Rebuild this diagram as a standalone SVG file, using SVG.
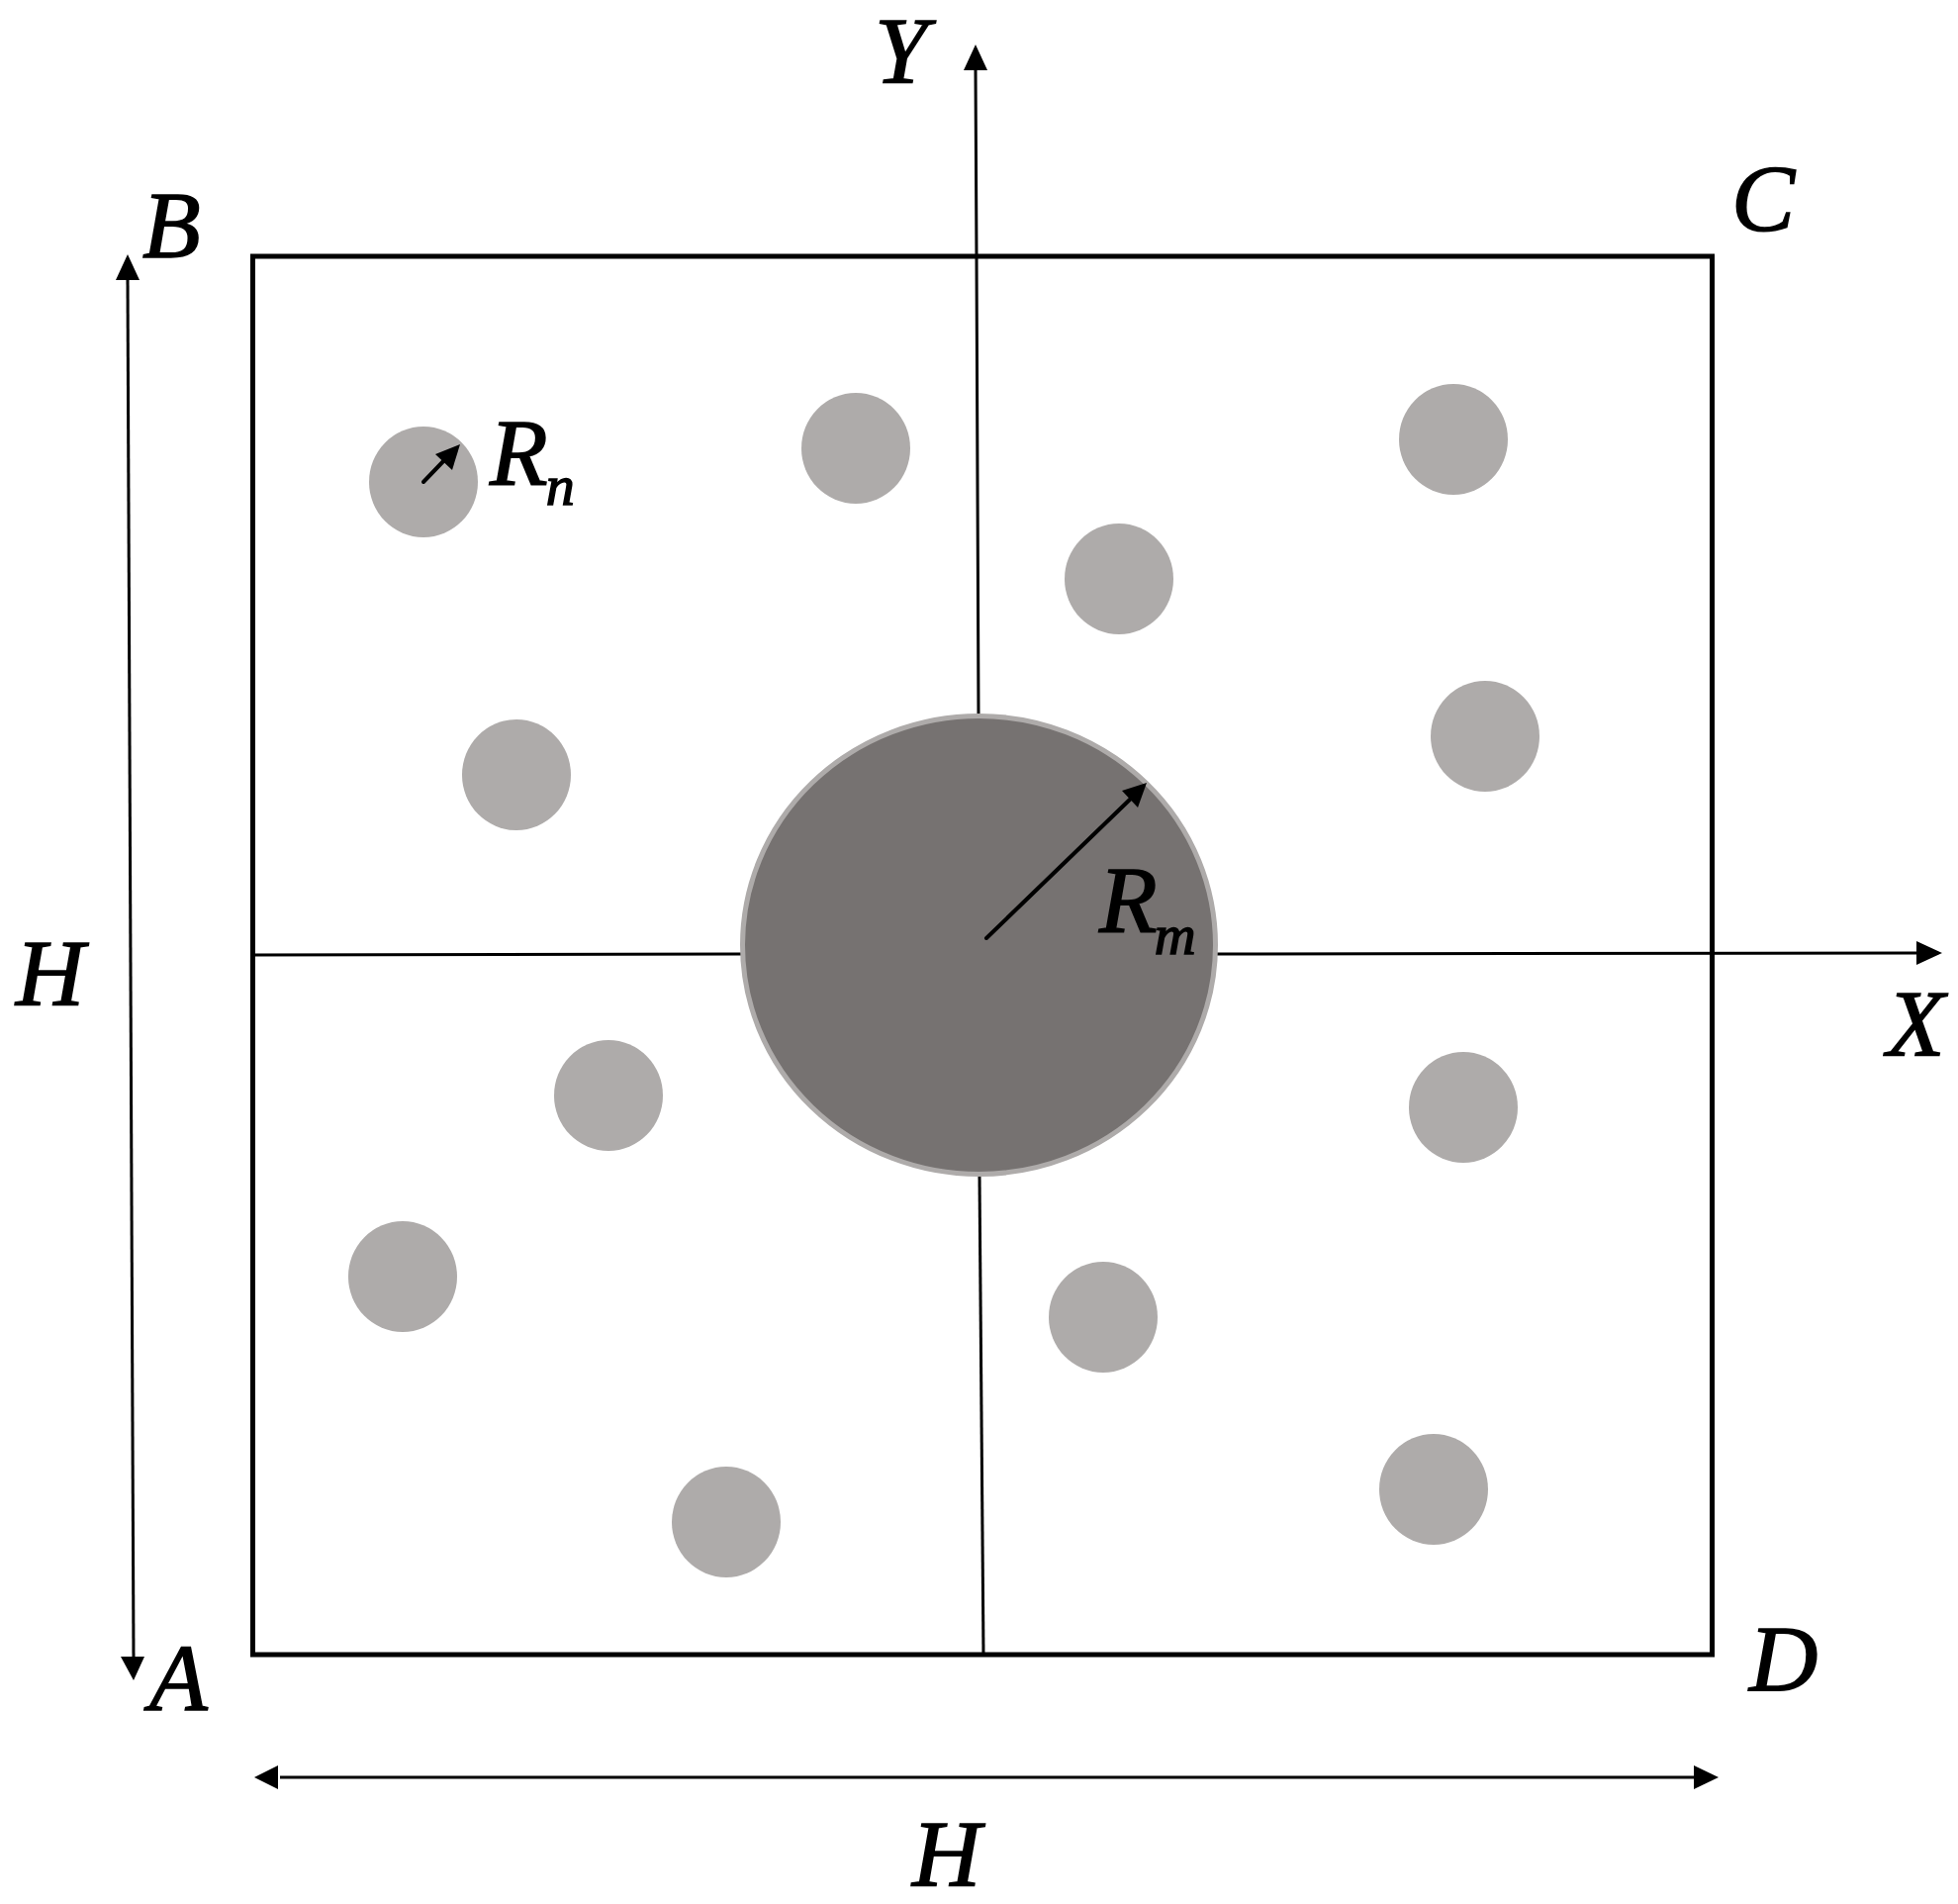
<svg xmlns="http://www.w3.org/2000/svg" width="1979" height="1924" viewBox="0 0 1979 1924">
<style>
.s{fill:#aeabaa}
.l{fill:none;stroke:#000;stroke-width:3}
.a{fill:none;stroke:#000;stroke-width:4;stroke-linecap:round}
.t{font-family:"Liberation Serif",serif;font-style:italic;font-size:96px;fill:#000;stroke:#000;stroke-width:1.5}
.u{font-size:58px}
</style>
<rect width="1979" height="1924" fill="#fff"/>
<g id="connectors">
<path class="l" d="M989 722L987 259L986 70"/>
<path d="M986 45L974 71H998Z" fill="#000"/>
<path class="l" d="M990 1188L994 1672"/>
<path class="l" d="M255 965L750 964"/>
<path class="l" d="M1230 964L1940 963"/>
<path d="M1963 963L1937 951V975Z" fill="#000"/>
</g>
<rect id="frame" x="255.500" y="259" width="1475" height="1413" fill="none" stroke="#000" stroke-width="5"/>
<g id="circles">
<ellipse class="s" cx="428" cy="487" rx="55" ry="56"/>
<ellipse class="s" cx="865" cy="453" rx="55" ry="56"/>
<ellipse class="s" cx="1469" cy="444" rx="55" ry="56"/>
<ellipse class="s" cx="1131" cy="585" rx="55" ry="56"/>
<ellipse class="s" cx="1501" cy="744" rx="55" ry="56"/>
<ellipse class="s" cx="522" cy="783" rx="55" ry="56"/>
<ellipse class="s" cx="615" cy="1107" rx="55" ry="56"/>
<ellipse class="s" cx="1479" cy="1119" rx="55" ry="56"/>
<ellipse class="s" cx="407" cy="1290" rx="55" ry="56"/>
<ellipse class="s" cx="1115" cy="1331" rx="55" ry="56"/>
<ellipse class="s" cx="734" cy="1538" rx="55" ry="56"/>
<ellipse class="s" cx="1449" cy="1505" rx="55" ry="56"/>
<ellipse id="main" cx="989.500" cy="955" rx="239" ry="231.500" fill="#767271" stroke="#aeabaa" stroke-width="5"/>
</g>
<g id="arrows">
<path class="a" d="M428 487L452 462"/>
<path d="M465 449L440 459L457 475Z" fill="#000"/>
<path class="a" d="M997 948L1145 805"/>
<path d="M1159 791L1134 799L1150 816Z" fill="#000"/>
<path class="l" d="M129 280L135 1675"/>
<path d="M129 257L117 283H141Z" fill="#000"/>
<path d="M135 1698L122 1674H146Z" fill="#000"/>
<path class="l" d="M283 1796H1715"/>
<path d="M257 1796L281 1784V1808Z" fill="#000"/>
<path d="M1737 1796L1712 1784V1808Z" fill="#000"/>
</g>
<g id="labels">
<text class="t" x="884" y="84">Y</text>
<text class="t" x="144" y="260">B</text>
<text class="t" x="1750" y="233">C</text>
<text class="t" x="16" y="1016">H</text>
<text class="t" x="1907" y="1067">X</text>
<text class="t" x="151" y="1728">A</text>
<text class="t" x="1768" y="1709">D</text>
<text class="t" x="922" y="1906">H</text>
<text class="t" x="495" y="490">R<tspan class="u" dy="20" dx="-2">n</tspan></text>
<text class="t" x="1111" y="942">R<tspan class="u" dy="22" dx="-3">m</tspan></text>
</g>
</svg>
